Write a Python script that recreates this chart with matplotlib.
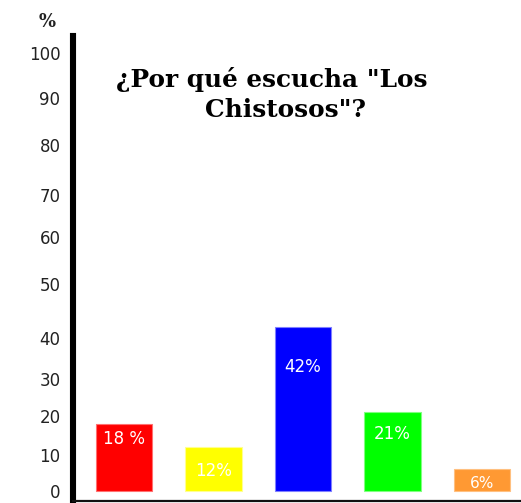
import numpy as np
import matplotlib
matplotlib.use("Agg")
import matplotlib.pyplot as plt

# ---- data ----
values = [18, 12, 42, 21, 6]
bar_labels = ["18 %", "12%", "42%", "21%", "6%"]
bar_colors = ["#ff0000", "#ffff00", "#0000ff", "#00ff00", "#ff9933"]
edge_colors = ["#ff7070", "#ffff90", "#8080ff", "#80ff80", "#ffc080"]
tick_values = [0, 10, 20, 30, 40, 50, 60, 70, 80, 90, 100]
tick_labels = [str(v) for v in tick_values]
title_line1 = '¿Por qué escucha "Los'
title_line2 = 'Chistosos"?'
axis_unit = "%"

# ---- layout (hand-drawn, uneven axis spacing: value -> pixel height above bottom line) ----
W, H = 521, 503
ax_left_px, ax_bottom_px, ax_top_px = 73, 501, 36
scale_vals = [-20, 0, 10, 20, 30, 40, 50, 60, 70, 80, 90, 100, 150]
scale_h = [-62, 10, 46, 85, 122, 163, 217, 264, 306, 356, 403, 448, 673]
label_offsets_px = [15, 24, 40, 22, 14]
label_sizes = [12, 12, 12, 12, 11]

def fwd(v):
    return np.interp(v, scale_vals, scale_h)

def inv(h):
    return np.interp(h, scale_h, scale_vals)

fig = plt.figure(figsize=(W / 100, H / 100), dpi=100)
ax = fig.add_axes([ax_left_px / W, (H - ax_bottom_px) / H,
                   (W - ax_left_px) / W, (ax_bottom_px - ax_top_px) / H])
ax.set_yscale("function", functions=(fwd, inv))

x = np.arange(len(values))
bars = ax.bar(x, values, width=0.63, color=bar_colors, edgecolor=edge_colors,
              linewidth=0.8, zorder=2)

spacing_px = 89.5
first_px = 124
ax.set_xlim((ax_left_px - first_px) / spacing_px, (W - first_px) / spacing_px)
ax.set_ylim(inv(0), inv(ax_bottom_px - ax_top_px))

for xi, v, lab, off, fs in zip(x, values, bar_labels, label_offsets_px, label_sizes):
    ax.annotate(lab, (xi, v), xytext=(0, -off * 0.72), textcoords="offset points",
                ha="center", va="center", color="white", fontsize=fs,
                family="DejaVu Sans", zorder=3)

ax.set_yticks(tick_values)
ax.set_yticklabels(tick_labels)
ax.yaxis.set_minor_locator(matplotlib.ticker.NullLocator())
ax.tick_params(axis="y", length=0, pad=9, labelsize=12, labelcolor="#222222")
ax.set_xticks([])

for s in ["top", "right"]:
    ax.spines[s].set_visible(False)
ax.spines["left"].set_linewidth(4.4)
ax.spines["left"].set_color("black")
ax.spines["bottom"].set_linewidth(1.6)
ax.spines["bottom"].set_color("#111111")

fig.text(47 / W, 1 - 22 / H, axis_unit, ha="center", va="center",
         family="DejaVu Serif", fontweight="bold", fontsize=13, color="#222222")
fig.text(272 / W, 1 - 79 / H, title_line1, ha="center", va="center",
         family="DejaVu Serif", fontweight="bold", fontsize=17.8)
fig.text(286 / W, 1 - 110 / H, title_line2, ha="center", va="center",
         family="DejaVu Serif", fontweight="bold", fontsize=17.8)

fig.savefig("out.png", dpi=100)
